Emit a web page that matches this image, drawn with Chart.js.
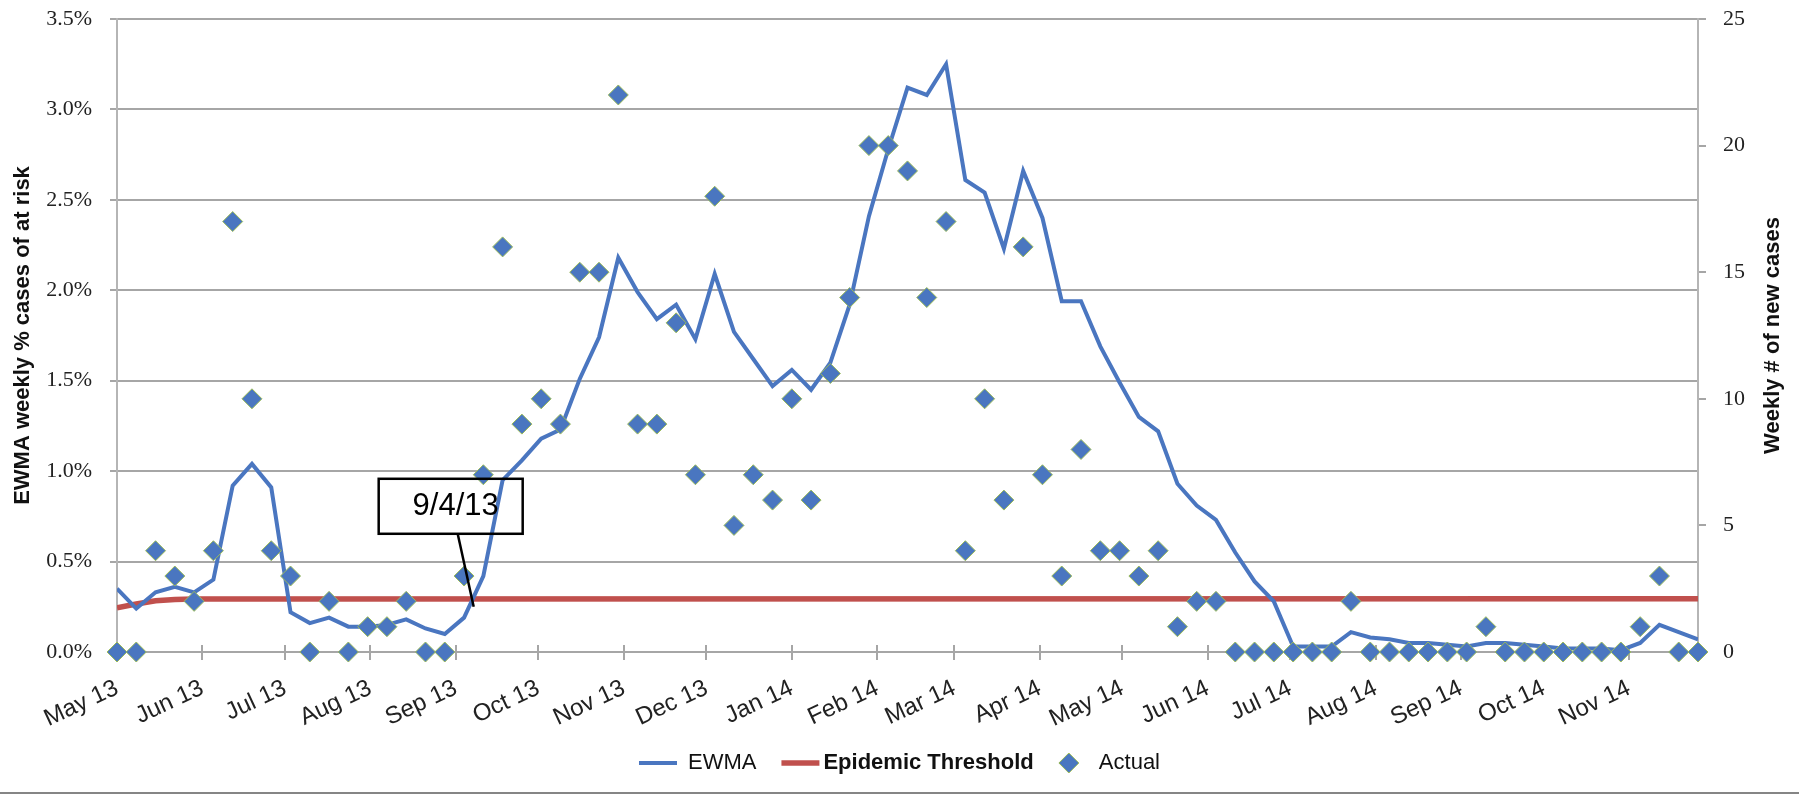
<!DOCTYPE html>
<html>
<head>
<meta charset="utf-8">
<title>EWMA weekly cases</title>
<script src="https://cdn.jsdelivr.net/npm/chart.js@4.4.1/dist/chart.umd.min.js"></script>
<style>
  html, body { margin: 0; padding: 0; background: #fff; }
  #wrap { width: 1799px; height: 795px; position: relative; }
</style>
</head>
<body>
<div id="wrap"><canvas id="chart" width="1799" height="795"></canvas></div>
<script>
// one point per week (Wednesdays), first week = 1 May 2013
const firstWeek = Date.UTC(2013, 4, 1);

const monthLabels = ['May 13', 'Jun 13', 'Jul 13', 'Aug 13', 'Sep 13', 'Oct 13', 'Nov 13', 'Dec 13',
  'Jan 14', 'Feb 14', 'Mar 14', 'Apr 14', 'May 14', 'Jun 14', 'Jul 14', 'Aug 14', 'Sep 14', 'Oct 14', 'Nov 14'];

// EWMA, weekly % cases of at risk
const ewma = [
  0.35, 0.24, 0.33, 0.36, 0.33, 0.40, 0.92, 1.04, 0.91, 0.22,
  0.16, 0.19, 0.14, 0.14, 0.15, 0.18, 0.13, 0.10, 0.19, 0.42,
  0.95, 1.06, 1.18, 1.23, 1.51, 1.74, 2.18, 1.99, 1.84, 1.92,
  1.73, 2.09, 1.77, 1.62, 1.47, 1.56, 1.45, 1.60, 1.92, 2.41,
  2.78, 3.12, 3.08, 3.25, 2.61, 2.54, 2.23, 2.66, 2.40, 1.94,
  1.94, 1.69, 1.49, 1.30, 1.22, 0.93, 0.81, 0.73, 0.55, 0.39,
  0.28, 0.03, 0.03, 0.03, 0.11, 0.08, 0.07, 0.05, 0.05, 0.04,
  0.03, 0.05, 0.05, 0.04, 0.03, 0.02, 0.02, 0.02, 0.01, 0.05,
  0.15, 0.11, 0.07
];

// Actual weekly # of new cases
const actual = [
  0, 0, 4, 3, 2, 4, 17, 10, 4, 3,
  0, 2, 0, 1, 1, 2, 0, 0, 3, 7,
  16, 9, 10, 9, 15, 15, 22, 9, 9, 13,
  7, 18, 5, 7, 6, 10, 6, 11, 14, 20,
  20, 19, 14, 17, 4, 10, 6, 16, 7, 3,
  8, 4, 4, 3, 4, 1, 2, 2, 0, 0,
  0, 0, 0, 0, 2, 0, 0, 0, 0, 0,
  0, 1, 0, 0, 0, 0, 0, 0, 0, 1,
  3, 0, 0
];

// epidemic threshold (%), given at the weeks where it changes
const thresholdWeeks = [0, 1, 2, 3, 4, 82];
const threshold = [0.245, 0.265, 0.283, 0.29, 0.293, 0.295];

const leftTitle = 'EWMA weekly % cases of at risk';
const rightTitle = 'Weekly # of new cases';
const boldLegendItem = 'Epidemic Threshold';
const callout = { label: '9/4/13', day: 129.5, value: 0.25 };

const DAY = 86400000;
const weekDays = actual.map((_, i) => i * 7);
const monthDays = monthLabels.map((_, k) => (Date.UTC(2013, 4 + k, 1) - firstWeek) / DAY);
const lastDay = weekDays[weekDays.length - 1];

const blue = '#4a76c0';
const red = '#c0504d';
const green = '#9bbb59';
const gridColor = '#a6a6a6';
const sans = '"Liberation Sans", Arial, sans-serif';
const serif = '"Liberation Serif", "Times New Roman", serif';
const legendSize = 22;
const legendSample = 38;

// diamond used as the legend marker of "Actual"
const diamond = document.createElement('canvas');
diamond.width = 22;
diamond.height = 22;
const dctx = diamond.getContext('2d');
dctx.beginPath();
dctx.moveTo(11, 1); dctx.lineTo(21, 11); dctx.lineTo(11, 21); dctx.lineTo(1, 11);
dctx.closePath();
dctx.fillStyle = blue;
dctx.fill();
dctx.strokeStyle = green;
dctx.lineWidth = 1;
dctx.stroke();

const extras = {
  id: 'extras',
  beforeDatasetsDraw(chart) {
    // upper half of the crossing month tick marks
    const { ctx, scales: { x, y } } = chart;
    ctx.save();
    ctx.strokeStyle = gridColor;
    ctx.lineWidth = 2;
    monthDays.forEach(d => {
      const px = Math.round(x.getPixelForValue(d));
      ctx.beginPath();
      ctx.moveTo(px, y.bottom - 7);
      ctx.lineTo(px, y.bottom);
      ctx.stroke();
    });
    ctx.restore();
  },
  afterDatasetsDraw(chart) {
    const { ctx, scales: { x, y } } = chart;
    const ax = x.getPixelForValue(callout.day);
    const ay = y.getPixelForValue(callout.value);
    ctx.save();
    ctx.strokeStyle = '#000';
    ctx.lineWidth = 2.5;
    ctx.strokeRect(ax - 95, ay - 128, 144, 55);
    ctx.beginPath();
    ctx.moveTo(ax - 16, ay - 73);
    ctx.lineTo(ax, ay);
    ctx.stroke();
    ctx.fillStyle = '#000';
    ctx.font = '31px ' + sans;
    ctx.textAlign = 'center';
    ctx.textBaseline = 'middle';
    ctx.fillText(callout.label, ax - 18, ay - 100);
    ctx.restore();
  },
  afterDraw(chart) {
    const { ctx, scales: { y } } = chart;
    ctx.save();
    // right axis title reads upwards
    ctx.translate(1773, (y.top + y.bottom) / 2);
    ctx.rotate(-Math.PI / 2);
    ctx.fillStyle = '#111';
    ctx.font = 'bold 22px ' + sans;
    ctx.textAlign = 'center';
    ctx.textBaseline = 'middle';
    ctx.fillText(rightTitle, 0, 0);
    ctx.restore();

    // the threshold entry of the legend is bold in the original
    const lg = chart.legend;
    const idx = lg.legendItems.findIndex(it => it.text === boldLegendItem);
    const hb = lg.legendHitBoxes[idx];
    if (hb) {
      ctx.save();
      ctx.fillStyle = '#111';
      ctx.font = 'bold ' + legendSize + 'px ' + sans;
      ctx.textAlign = 'left';
      ctx.textBaseline = 'middle';
      ctx.fillText(boldLegendItem, hb.left + legendSample + 4, hb.top + hb.height / 2);
      ctx.restore();
    }

    // frame line at the bottom of the picture
    ctx.fillStyle = '#858585';
    ctx.fillRect(0, 792, chart.width, 2);
  }
};

// fixed axis sizes so the plot area sits where the original one does
const fixWidth = w => s => { s.width = w; s.paddingTop = 10; s.paddingBottom = 10; };

new Chart(document.getElementById('chart'), {
  type: 'line',
  data: {
    datasets: [
      {
        label: 'EWMA',
        data: weekDays.map((d, i) => ({ x: d, y: ewma[i] })),
        yAxisID: 'y',
        borderColor: blue,
        borderWidth: 4,
        pointRadius: 0,
        tension: 0,
        order: 1
      },
      {
        label: 'Epidemic Threshold',
        data: thresholdWeeks.map((w, i) => ({ x: weekDays[w], y: threshold[i] })),
        yAxisID: 'y',
        borderColor: red,
        borderWidth: 5.5,
        pointRadius: 0,
        order: 2
      },
      {
        label: 'Actual',
        data: weekDays.map((d, i) => ({ x: d, y: actual[i] })),
        yAxisID: 'y1',
        showLine: false,
        pointStyle: 'rectRot',
        pointRadius: 10,
        backgroundColor: blue,
        borderColor: green,
        borderWidth: 1,
        clip: false,
        order: 0
      }
    ]
  },
  options: {
    responsive: false,
    animation: false,
    layout: { padding: { top: 19, right: 0, bottom: 11, left: 0 } },
    scales: {
      x: {
        type: 'linear',
        min: 0,
        max: lastDay,
        afterBuildTicks: s => { s.ticks = monthDays.map(v => ({ value: v })); },
        afterFit: s => { s.height = 75; },
        grid: { drawOnChartArea: false, tickLength: 8, color: gridColor, lineWidth: 2 },
        border: { color: gridColor, width: 2 },
        ticks: {
          autoSkip: false,
          minRotation: 25,
          maxRotation: 25,
          padding: 14,
          color: '#222',
          font: { family: sans, size: 24 },
          callback: v => monthLabels[monthDays.indexOf(v)]
        }
      },
      y: {
        position: 'left',
        min: 0,
        max: 3.5,
        afterFit: fixWidth(117),
        grid: { color: gridColor, lineWidth: 2, tickLength: 7 },
        border: { color: '#b5b5b5', width: 2 },
        ticks: {
          stepSize: 0.5,
          padding: 18,
          color: '#222',
          font: { family: serif, size: 22 },
          callback: v => v.toFixed(1) + '%'
        },
        title: {
          display: true,
          text: leftTitle,
          color: '#111',
          font: { family: sans, size: 22, weight: 'bold' },
          padding: { top: 10, bottom: 0 }
        }
      },
      y1: {
        position: 'right',
        min: 0,
        max: 25,
        afterFit: fixWidth(101),
        grid: { drawOnChartArea: false, tickLength: 8, color: gridColor, lineWidth: 2 },
        border: { color: '#b5b5b5', width: 2 },
        ticks: {
          stepSize: 5,
          padding: 17,
          color: '#222',
          font: { family: serif, size: 22 }
        }
      }
    },
    plugins: {
      tooltip: { enabled: false },
      legend: {
        position: 'bottom',
        labels: {
          usePointStyle: true,
          pointStyleWidth: legendSample,
          padding: 25,
          color: '#111',
          font: { family: sans, size: legendSize },
          sort: (a, b) => a.datasetIndex - b.datasetIndex,
          generateLabels: chart => Chart.defaults.plugins.legend.labels.generateLabels(chart).map(item => {
            const ds = chart.data.datasets[item.datasetIndex];
            if (ds.showLine === false) {
              item.pointStyle = diamond;
            } else {
              item.pointStyle = 'line';
              item.strokeStyle = ds.borderColor;
              item.lineWidth = ds.borderWidth;
            }
            if (item.text === boldLegendItem) {
              item.fontColor = 'rgba(0,0,0,0)'; // redrawn in bold by the extras plugin
            }
            return item;
          })
        }
      }
    }
  },
  plugins: [extras]
});
</script>
</body>
</html>
